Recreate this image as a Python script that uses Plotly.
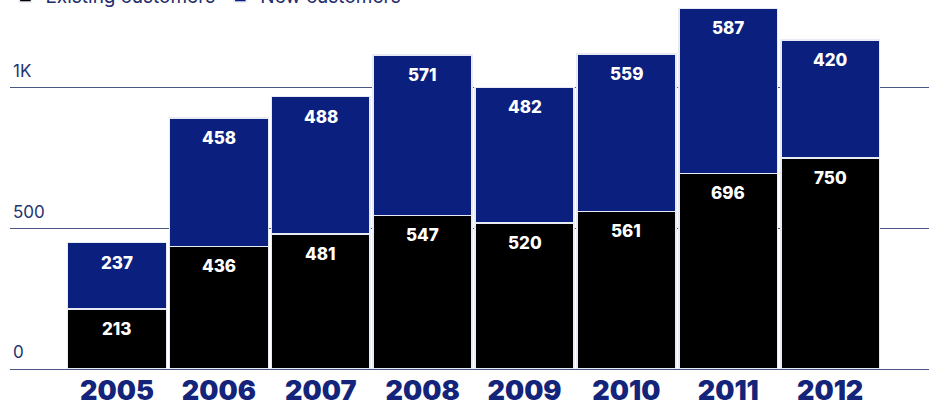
import plotly.graph_objects as go

years = ["2005", "2006", "2007", "2008", "2009", "2010", "2011", "2012"]
bottom_vals = [213, 436, 481, 547, 520, 561, 696, 750]
top_vals = [237, 458, 488, 571, 482, 559, 587, 420]
series_names = ["Existing customers", "New customers"]
colors = ["#000000", "#0b1f7e"]

fig = go.Figure()
for name, vals, col in zip(series_names, [bottom_vals, top_vals], colors):
    fig.add_trace(go.Bar(
        x=years, y=vals, name=name,
        marker=dict(color=col, line=dict(color="#e8ebf3", width=1.5)),
    ))

# value labels near the top of each segment
base = [0] * len(years)
for vals in [bottom_vals, top_vals]:
    for i, v in enumerate(vals):
        fig.add_annotation(
            x=i, y=base[i] + v, xref="x", yref="y", text=str(v), showarrow=False,
            yanchor="top", yshift=-8,
            font=dict(family="Inter", size=17, color="white", weight=800),
        )
        base[i] += v

fig.update_layout(
    barmode="stack", bargap=0.03,
    width=929, height=407,
    margin=dict(l=10, r=0, t=0, b=38, autoexpand=False),
    plot_bgcolor="white", paper_bgcolor="white",
    showlegend=True,
    legend=dict(orientation="h", x=-0.005, y=1.062, yanchor="top", xanchor="left",
                traceorder="normal",
                font=dict(family="Inter", size=19, color="#1f2d6b")),
)
fig.update_xaxes(
    type="category",
    range=[-1.05, 7.97], showgrid=False, showline=False, ticks="",
    ticklabelstandoff=3,
    tickfont=dict(family="Inter", size=27, color="#13247a", weight=900),
)
fig.update_yaxes(
    range=[0, 1313], tickvals=[0, 500, 1000], ticktext=["0", "500", "1K"],
    ticklabelposition="inside top", ticklabelshift=-5,
    showgrid=True, gridcolor="#4a5784", gridwidth=1,
    zeroline=True, zerolinecolor="#4a5784", zerolinewidth=1,
    tickfont=dict(family="Inter", size=17, color="#26336e"),
)
fig.write_html("out.html")
